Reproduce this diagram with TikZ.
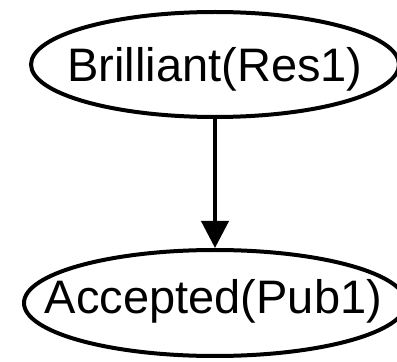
\documentclass[tikz,border=0pt]{standalone}
\usepackage{fontspec}
\setmainfont{Liberation Sans}
\usetikzlibrary{arrows.meta,shapes.geometric}

\tikzset{
  statebox/.style={draw=black, line width=4pt, ellipse, inner sep=0pt},
  statetext/.style={anchor=base, inner sep=0pt, font=\fontsize{47}{56}\selectfont},
  implies/.style={line width=4pt, -{Triangle[length=27pt,width=27pt]}}
}

\begin{document}
\begin{tikzpicture}[x=1pt,y=1pt]
  \useasboundingbox (0,0) rectangle (397,362);

  % premise
  \node[statebox, minimum width=368pt, minimum height=105pt] (res) at (215,297.5) {};
  \node[statetext] (restext) at (215,280.3) {Brilliant(Res1)};

  % conclusion
  \node[statebox, minimum width=382pt, minimum height=106pt] (pub) at (215,59) {};
  \node[statetext] (pubtext) at (213.5,48.3) {Accepted(Pub1)};

  % inference edge
  \draw[implies] (res.south) -- (pub.north);
\end{tikzpicture}
\end{document}
